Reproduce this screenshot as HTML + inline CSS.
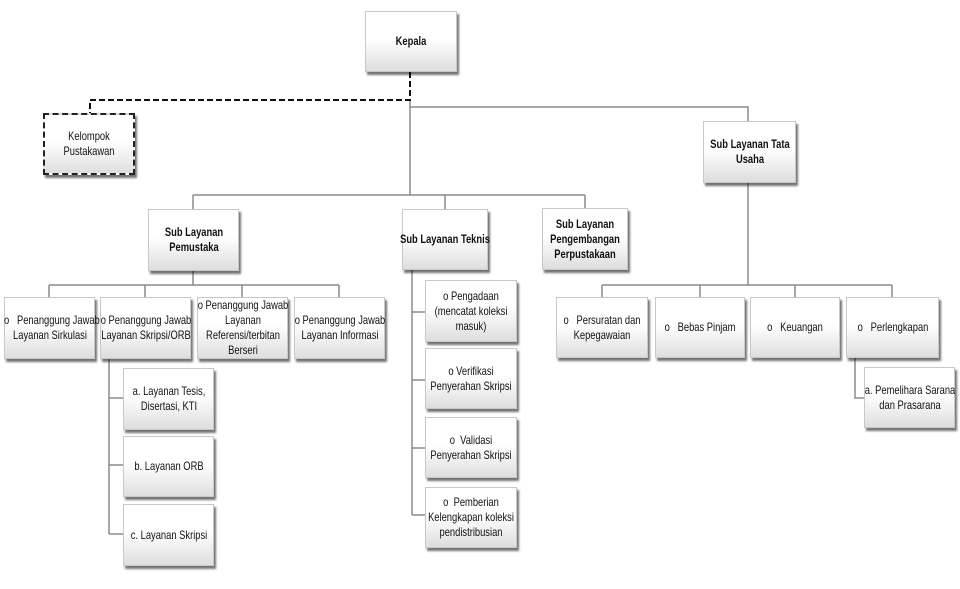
<!DOCTYPE html>
<html><head><meta charset="utf-8"><style>
body{margin:0;width:960px;height:589px;background:#fff;position:relative;overflow:hidden;font-family:"Liberation Sans",sans-serif;}
.b{position:absolute;box-sizing:border-box;border:1px solid #c8c8c8;background:linear-gradient(#fff 0%,#fff 45%,#dedede 100%);box-shadow:2px 3px 2px rgba(0,0,0,.55);display:flex;align-items:center;justify-content:center;text-align:center;font-size:12px;line-height:15px;color:#111;}
.b span{display:block;flex-shrink:0;width:118px;transform:scaleX(.78);white-space:nowrap}
.k{font-weight:bold}
svg{position:absolute;left:0;top:0}
</style></head><body>
<svg width="960" height="589">
<g stroke="#8c8c8c" stroke-width="1.5" fill="none">
<path d="M410 100V195M410 107H748V121M193 195H585M193 195V209M445 195V209M585 195V208"/>
<path d="M193 271V285M49 285H339M49 285V297M145 285V297M242 285V297M339 285V297"/>
<path d="M109 358V534M109 398H123M109 465H123M109 534H123"/>
<path d="M412 270V515M412 312H425M412 380H425M412 448H425M412 515H425"/>
<path d="M748 183V285M602 285H892M602 285V297M700 285V297M795 285V297M892 285V297"/>
<path d="M855 358V398H864"/>
</g>
<path d="M410 72V100H90V113" stroke="#111" stroke-width="2" stroke-dasharray="6,3" fill="none"/>
</svg>
<div class="b k" style="left:365px;top:11px;width:92px;height:61px"><span>Kepala</span></div>
<div class="b" style="left:43px;top:113px;width:92px;height:62px;border:2px dashed #222"><span>Kelompok<br>Pustakawan</span></div>
<div class="b k" style="left:703px;top:121px;width:93px;height:62px"><span>Sub Layanan Tata<br>Usaha</span></div>
<div class="b k" style="left:148px;top:209px;width:91px;height:62px"><span>Sub Layanan<br>Pemustaka</span></div>
<div class="b k" style="left:402px;top:209px;width:86px;height:61px"><span>Sub Layanan Teknis</span></div>
<div class="b k" style="left:542px;top:208px;width:86px;height:62px"><span>Sub Layanan<br>Pengembangan<br>Perpustakaan</span></div>
<div class="b" style="left:4px;top:297px;width:91px;height:62px"><span>o&nbsp;&nbsp; Penanggung Jawab<br>Layanan Sirkulasi</span></div>
<div class="b" style="left:100px;top:297px;width:91px;height:62px"><span>o Penanggung Jawab<br>Layanan Skripsi/ORB</span></div>
<div class="b" style="left:197px;top:297px;width:91px;height:62px"><span>o Penanggung Jawab<br>Layanan<br>Referensi/terbitan<br>Berseri</span></div>
<div class="b" style="left:294px;top:297px;width:91px;height:62px"><span>o Penanggung Jawab<br>Layanan Informasi</span></div>
<div class="b" style="left:123px;top:368px;width:91px;height:62px"><span>a. Layanan Tesis,<br>Disertasi, KTI</span></div>
<div class="b" style="left:123px;top:436px;width:91px;height:61px"><span>b. Layanan ORB</span></div>
<div class="b" style="left:123px;top:504px;width:91px;height:62px"><span>c. Layanan Skripsi</span></div>
<div class="b" style="left:425px;top:280px;width:92px;height:62px"><span>o Pengadaan<br>(mencatat koleksi<br>masuk)</span></div>
<div class="b" style="left:425px;top:348px;width:92px;height:61px"><span>o Verifikasi<br>Penyerahan Skripsi</span></div>
<div class="b" style="left:425px;top:417px;width:92px;height:61px"><span>o&nbsp; Validasi<br>Penyerahan Skripsi</span></div>
<div class="b" style="left:425px;top:487px;width:92px;height:61px"><span>o&nbsp; Pemberian<br>Kelengkapan koleksi<br>pendistribusian</span></div>
<div class="b" style="left:556px;top:297px;width:92px;height:61px"><span>o&nbsp;&nbsp; Persuratan dan<br>Kepegawaian</span></div>
<div class="b" style="left:655px;top:297px;width:90px;height:61px"><span>o&nbsp;&nbsp; Bebas Pinjam</span></div>
<div class="b" style="left:750px;top:297px;width:90px;height:61px"><span>o&nbsp;&nbsp; Keuangan</span></div>
<div class="b" style="left:846px;top:297px;width:93px;height:61px"><span>o&nbsp;&nbsp; Perlengkapan</span></div>
<div class="b" style="left:864px;top:367px;width:91px;height:61px"><span>a. Pemelihara Sarana<br>dan Prasarana</span></div>
</body></html>
